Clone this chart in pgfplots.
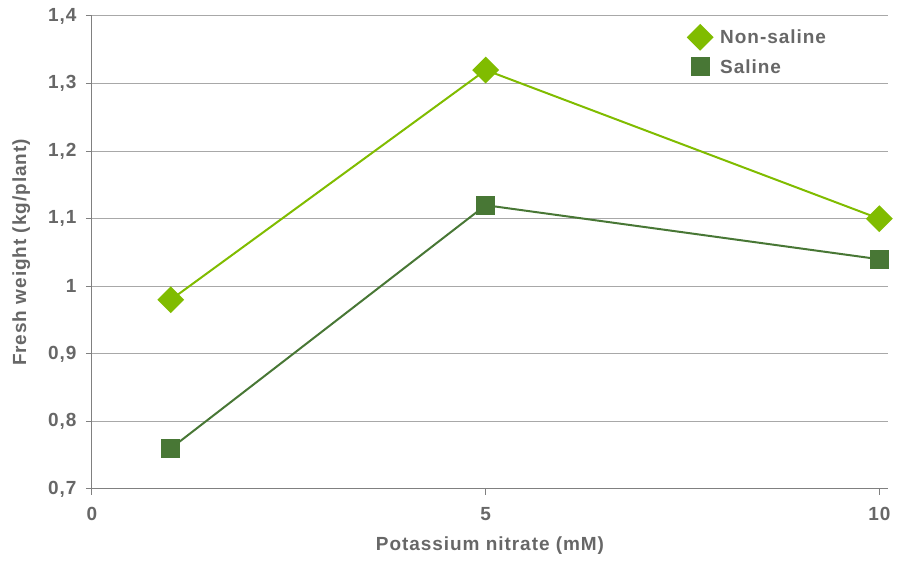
\documentclass[border=0pt]{standalone}
\usepackage{fontspec}
\setmainfont{Liberation Sans}[LetterSpace=5]
\usepackage{pgfplots}
\pgfplotsset{compat=1.18}
\definecolor{lgreen}{HTML}{80BC00}
\definecolor{dgreen}{HTML}{487735}
\definecolor{txt}{HTML}{676767}
\definecolor{gridc}{HTML}{A8A8A8}
\definecolor{axc}{HTML}{808080}
\begin{document}
\begin{tikzpicture}
\begin{axis}[
  scale only axis,
  width=796pt, height=473pt,
  xmin=0, xmax=10.11, ymin=0.7, ymax=1.4,
  xtick={0,5,10}, ytick={0.7,0.8,...,1.41},
  axis lines*=left,
  axis line style={axc, line width=1pt},
  tick style={axc, line width=1pt},
  tick align=outside, major tick length=6pt,
  ymajorgrids, grid style={gridc, line width=1pt},
  /pgf/number format/use comma,
  /pgf/number format/assume math mode=true,
  tick label style={font=\bfseries\fontsize{19}{19}\selectfont, text=txt},
  yticklabel style={xshift=-6pt},
  xticklabel style={yshift=-9pt},
  xlabel={Potassium nitrate (mM)},
  ylabel={Fresh weight (kg/plant)},
  label style={font=\bfseries\fontsize{19}{19}\selectfont, text=txt},
  xlabel style={at={(0.5,-0.1205)}, anchor=center},
  ylabel style={at={(-0.089,0.5)}, anchor=center},
  legend style={at={(0.745,0.985)}, anchor=north west, draw=none, fill=none,
    font=\bfseries\fontsize{19}{19}\selectfont, text=txt,
    row sep=8pt, legend cell align=left},
  legend image code/.code={\draw[mark repeat=1] plot coordinates {(0.3cm,0cm)};
    \path (0.3cm,0cm) ++(17pt,0pt);},
]
\addplot[lgreen, line width=2pt, mark=square*, mark size=8.5pt,
  mark options={rotate=45, fill=lgreen, draw=lgreen}] coordinates {(1,0.98) (5,1.32) (10,1.10)};
\addlegendentry{Non-saline}
\addplot[dgreen, line width=2pt, mark=square*, mark size=9pt,
  mark options={fill=dgreen, draw=dgreen, line width=0pt}] coordinates {(1,0.76) (5,1.12) (10,1.04)};
\addlegendentry{Saline}
\end{axis}
\pgfresetboundingbox
\path (-92pt,-72pt) rectangle (805pt,489pt);
\end{tikzpicture}
\end{document}
